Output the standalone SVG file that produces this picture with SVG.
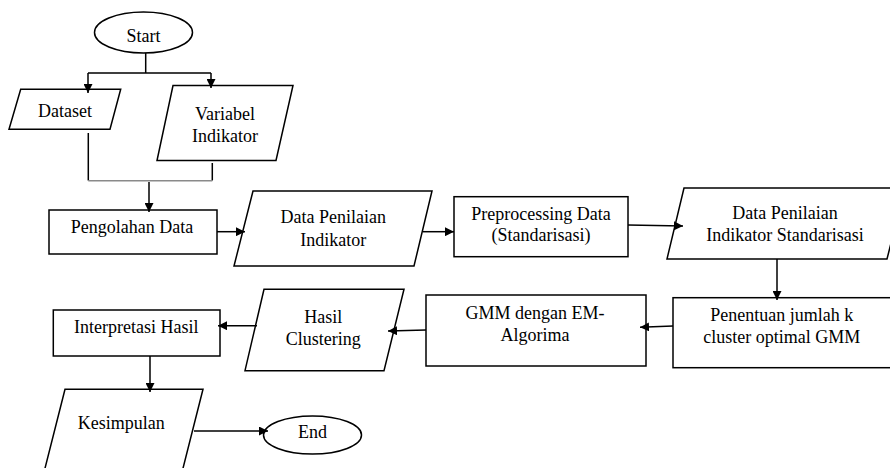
<svg xmlns="http://www.w3.org/2000/svg" width="890" height="468" viewBox="0 0 890 468">
<style>
.shape{fill:#fff;stroke:#000;stroke-width:1.5}
.line{fill:none;stroke:#000;stroke-width:1.5}
.arrow{fill:none;stroke:#000;stroke-width:1.5;marker-end:url(#ah)}
.t{font-family:'Liberation Serif','Times New Roman','DejaVu Serif',serif;font-size:18px;fill:#000;text-anchor:middle}
</style>
<defs>
<marker id="ah" markerUnits="userSpaceOnUse" markerWidth="9" markerHeight="9" refX="9" refY="4.5" orient="auto">
<path d="M0,0 L9,4.5 L0,9 z" fill="#000"/>
</marker>
</defs>
<rect width="890" height="468" fill="#fff"/>
<g id="start">
<ellipse class="shape" cx="143.5" cy="32.5" rx="49" ry="20.5"/>
<text class="t" font-family="Liberation Serif, serif" x="143.5" y="41.7">Start</text>
</g>
<g id="dataset">
<polygon class="shape" points="20.7,89.3 120.7,89.3 110,129.3 9,129.3"/>
<text class="t" font-family="Liberation Serif, serif" x="65" y="116.7">Dataset</text>
</g>
<g id="variabel-indikator">
<polygon class="shape" points="173,85.5 293,85.5 276,160.5 157,160.5"/>
<text class="t" font-family="Liberation Serif, serif" x="225" y="120">Variabel</text>
<text class="t" font-family="Liberation Serif, serif" x="225" y="142">Indikator</text>
</g>
<g id="pengolahan-data">
<rect class="shape" x="49" y="210" width="168" height="44"/>
<text class="t" font-family="Liberation Serif, serif" x="132" y="232.7">Pengolahan Data</text>
</g>
<g id="data-penilaian-indikator">
<polygon class="shape" points="253,191 432,191 414,266 234,266"/>
<text class="t" font-family="Liberation Serif, serif" x="333.3" y="223">Data Penilaian</text>
<text class="t" font-family="Liberation Serif, serif" x="333.3" y="245.7">Indikator</text>
</g>
<g id="preprocessing">
<rect class="shape" x="454" y="196.7" width="174" height="60"/>
<text class="t" font-family="Liberation Serif, serif" x="541" y="220">Preprocessing Data</text>
<text class="t" font-family="Liberation Serif, serif" x="541" y="241">(Standarisasi)</text>
</g>
<g id="data-standarisasi">
<polygon class="shape" points="684,188 905,188 887,259 667,259"/>
<text class="t" font-family="Liberation Serif, serif" x="785" y="219.3">Data Penilaian</text>
<text class="t" font-family="Liberation Serif, serif" x="785" y="240.7">Indikator Standarisasi</text>
</g>
<g id="penentuan-k">
<rect class="shape" x="673" y="297.7" width="230" height="70"/>
<text class="t" font-family="Liberation Serif, serif" x="781.7" y="321">Penentuan jumlah k</text>
<text class="t" font-family="Liberation Serif, serif" x="781.7" y="342.7">cluster optimal GMM</text>
</g>
<g id="gmm-em">
<rect class="shape" x="426" y="295" width="220" height="71"/>
<text class="t" font-family="Liberation Serif, serif" x="535" y="319.3">GMM dengan EM-</text>
<text class="t" font-family="Liberation Serif, serif" x="535" y="341">Algorima</text>
</g>
<g id="hasil-clustering">
<polygon class="shape" points="264,289.3 404,289.3 384,370.7 245,370.7"/>
<text class="t" font-family="Liberation Serif, serif" x="323.3" y="323.3">Hasil</text>
<text class="t" font-family="Liberation Serif, serif" x="323.3" y="345">Clustering</text>
</g>
<g id="interpretasi-hasil">
<rect class="shape" x="53.3" y="310" width="166.7" height="46"/>
<text class="t" font-family="Liberation Serif, serif" x="136.2" y="332.7">Interpretasi Hasil</text>
</g>
<g id="kesimpulan">
<polygon class="shape" points="65,389.3 203,389.3 181.3,475 43.3,475"/>
<text class="t" font-family="Liberation Serif, serif" x="121.3" y="429">Kesimpulan</text>
</g>
<g id="end">
<ellipse class="shape" cx="312.5" cy="435" rx="49" ry="19"/>
<text class="t" font-family="Liberation Serif, serif" x="312.5" y="438.3">End</text>
</g>
<g id="connectors">
<path class="line" d="M145.7,53 V73 M88,73 H211"/>
<path class="arrow" d="M88,73 V93"/>
<path class="arrow" d="M211,73 V88"/>
<path class="line" d="M88.3,133 V180.5 M212.3,163 V180.5"/>
<path d="M88.3,180.8 H212.3" fill="none" stroke="#8a8a8a" stroke-width="1.6"/>
<path class="arrow" d="M149,182 V212"/>
<path class="arrow" d="M217,231.7 H245"/>
<path class="arrow" d="M423,231.7 H454"/>
<path class="arrow" d="M628,225 L683,226"/>
<path class="arrow" d="M777,259 V300"/>
<path class="arrow" d="M673,326 L640,327.3"/>
<path class="arrow" d="M426,330 L388,331"/>
<path class="arrow" d="M257,325.7 H218"/>
<path class="arrow" d="M150,356 V392"/>
<path class="arrow" d="M194,431 H268"/>
</g>
</svg>
